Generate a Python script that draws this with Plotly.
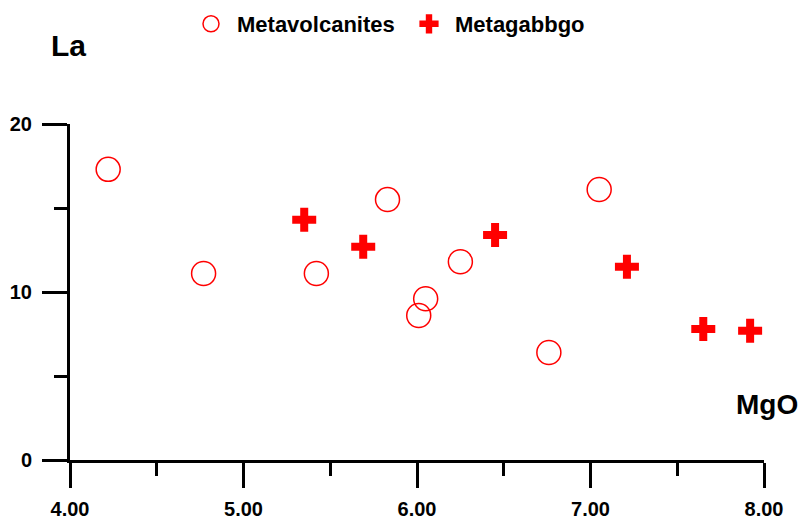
import plotly.graph_objects as go

# MgO vs La for the two rock groups
volc_mgo = [4.22, 4.77, 5.42, 5.83, 6.05, 6.01, 6.25, 7.05, 6.76]
volc_la = [17.3, 11.1, 11.1, 15.5, 9.6, 8.6, 11.8, 16.1, 6.4]

gabbro_mgo = [5.35, 5.69, 6.45, 7.21, 7.65, 7.92]
gabbro_la = [14.3, 12.7, 13.4, 11.5, 7.8, 7.7]

x_ticks = [4, 5, 6, 7, 8]
y_ticks = [0, 10, 20]

FONT = "Liberation Sans, Arial, sans-serif"

fig = go.Figure()
fig.add_trace(go.Scatter(
    x=volc_mgo, y=volc_la, mode="markers", name="Metavolcanites",
    marker=dict(symbol="circle-open", size=24, color="#ff0000",
                line=dict(width=1.5, color="#ff0000")),
    cliponaxis=False,
))
fig.add_trace(go.Scatter(
    x=gabbro_mgo, y=gabbro_la, mode="markers", name="Metagabbgo",
    marker=dict(symbol="cross", size=20, color="#ff0000",
                line=dict(width=0)),
    cliponaxis=False,
))

axis_common = dict(
    showline=True, linecolor="black", linewidth=3,
    ticks="outside", ticklen=25, tickwidth=3, tickcolor="black",
    showgrid=False, zeroline=False, automargin=False,
    tickfont=dict(family=FONT, size=20, color="black", weight="bold"),
)

fig.update_xaxes(
    range=[4, 8], tickvals=x_ticks, tickformat=".2f",
    minor=dict(dtick=0.5, ticks="outside", ticklen=13, tickwidth=3,
               tickcolor="black", showgrid=False),
    ticklabelstandoff=4,
    **axis_common,
)
fig.update_yaxes(
    range=[0, 20], tickvals=y_ticks,
    minor=dict(dtick=5, ticks="outside", ticklen=13, tickwidth=3,
               tickcolor="black", showgrid=False),
    ticklabelstandoff=6,
    **axis_common,
)

# axis names placed at the ends of the axes
fig.add_annotation(text="La", xref="paper", yref="paper", x=-0.0025, y=1.235,
                   xanchor="center", yanchor="middle", showarrow=False,
                   font=dict(family=FONT, size=30, color="black", weight="bold"))
fig.add_annotation(text="MgO", xref="paper", yref="paper", x=1.004, y=0.164,
                   xanchor="center", yanchor="middle", showarrow=False,
                   font=dict(family=FONT, size=28, color="black", weight="bold"))

fig.update_layout(
    width=803, height=520,
    margin=dict(l=70, r=39, t=124, b=60, autoexpand=False),
    paper_bgcolor="white", plot_bgcolor="white",
    showlegend=True,
    legend=dict(
        orientation="h", xref="container", yref="container",
        x=185 / 803, y=1 - 3 / 520, xanchor="left", yanchor="top",
        font=dict(family=FONT, size=22, color="black", weight="bold"),
        bgcolor="rgba(0,0,0,0)", itemsizing="trace", itemwidth=42,
        entrywidth=161, entrywidthmode="pixels",
    ),
)

fig.write_html("out.html")
